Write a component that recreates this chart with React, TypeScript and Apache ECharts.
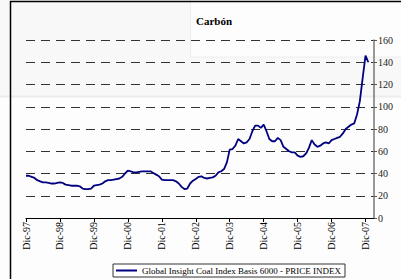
import React, { useEffect, useRef } from "react";
import * as echarts from "echarts";

const months = ["Dic", "Ene", "Feb", "Mar", "Abr", "May", "Jun", "Jul", "Ago", "Sep", "Oct", "Nov"];
const startYear = 97;
const categoryCount = 124;

const coalIndex: number[] = [
  // Dic-97 .. Nov-98
  38, 38, 37, 36, 34, 33, 32, 32, 31.5, 31, 31, 31.5,
  // Dic-98 .. Nov-99
  32, 31.5, 30, 29.5, 29, 29, 29, 28.5, 26.5, 26, 26, 26.5,
  // Dic-99 .. Nov-00
  29, 29.5, 30, 31, 33, 34, 34, 34.5, 35, 35.5, 37, 40,
  // Dic-00 .. Nov-01
  42.5, 42, 41, 41, 41.5, 42, 42, 42, 42, 40.5, 39, 37.5,
  // Dic-01 .. Nov-02
  34.5, 34, 34, 34, 34, 33, 31, 28, 26, 26.5, 31, 33.5,
  // Dic-02 .. Nov-03
  35, 37, 37.5, 36, 35.5, 36, 36.5, 38, 41, 42, 44, 50,
  // Dic-03 .. Nov-04
  61.5, 62, 65, 71, 69, 67, 68, 71, 78, 83, 83, 81,
  // Dic-04 .. Nov-05
  84, 78, 71, 69, 69, 72, 70, 64, 62, 60, 59, 59,
  // Dic-05 .. Nov-06
  56, 55, 55.5, 58, 63, 70, 66, 64, 65, 67, 68, 67,
  // Dic-06 .. Nov-07
  70, 71, 72, 73, 76, 80, 82, 84, 85, 93, 105, 126,
  // Dic-07 .. Ene-08
  146, 140,
];

const yTicks = { min: 0, max: 160, interval: 20 };
const title = "Carbón";
const seriesName = "Global Insight Coal Index Basis 6000 - PRICE INDEX";

const categories: string[] = [];
for (let i = 0; i < categoryCount; i++) {
  const m = i % 12;
  const yy = (startYear + Math.floor((i + 11) / 12)) % 100;
  categories.push(`${months[m]}-${String(yy).padStart(2, "0")}`);
}

export default function App() {
  const ref = useRef<HTMLDivElement>(null);
  useEffect(() => {
    if (!ref.current) return;
    const chart = echarts.init(ref.current, null, { renderer: "svg" });
    const font = "'Liberation Serif', 'Times New Roman', serif";
    chart.setOption({
      animation: false,
      backgroundColor: "#fdfdfd",
      title: {
        text: title,
        left: 191,
        top: 10,
        textStyle: { fontFamily: font, fontSize: 11, fontWeight: "bold", color: "#000" },
      },
      graphic: [
        { type: "rect", z: -10, silent: true, shape: { x: 0, y: 0, width: 401, height: 96 }, style: { fill: "#f8f8f8" } },
        { type: "line", z: -9, silent: true, shape: { x1: 0, y1: 96.5, x2: 401, y2: 96.5 }, style: { stroke: "#ececec", lineWidth: 2 } },
        { type: "rect", z: -8, silent: true, shape: { x: 190.5, y: -2, width: 220, height: 59 }, style: { fill: "#fdfdfd", stroke: "#eeeeee", lineWidth: 1 } },
        { type: "rect", z: 10, silent: true, shape: { x: 10.5, y: 1.5, width: 500, height: 500 }, style: { fill: "none", stroke: "#000", lineWidth: 1.5 } },
      ],
      grid: { left: 26, right: 27, top: 40, bottom: 61 },
      xAxis: {
        type: "category",
        data: categories,
        boundaryGap: false,
        axisLine: { lineStyle: { color: "#000", width: 1 } },
        axisTick: { show: true, interval: 11, length: 4, lineStyle: { color: "#000" } },
        axisLabel: {
          interval: 11,
          rotate: 90,
          fontFamily: font,
          fontSize: 10,
          color: "#000",
          margin: 4,
        },
        splitLine: { show: false },
      },
      yAxis: {
        type: "value",
        position: "right",
        min: yTicks.min,
        max: yTicks.max,
        interval: yTicks.interval,
        axisLine: { show: true, lineStyle: { color: "#777", width: 1.5 } },
        axisTick: { show: true, length: 3, lineStyle: { color: "#555" } },
        axisLabel: { fontFamily: font, fontSize: 10, color: "#222", margin: 4 },
        splitLine: { show: true, lineStyle: { color: "#333", type: [9, 6], width: 1.2 } },
      },
      legend: {
        bottom: 2,
        left: 113,
        itemWidth: 21,
        itemHeight: 2,
        itemGap: 2,
        padding: [2, 4, 2, 3],
        borderColor: "#333",
        borderWidth: 1,
        backgroundColor: "#fff",
        borderRadius: 0,
        textStyle: { fontFamily: font, fontSize: 9, color: "#000" },
        data: [{ name: seriesName, icon: "rect" }],
      },
      series: [
        {
          name: seriesName,
          type: "line",
          data: coalIndex,
          showSymbol: false,
          symbol: "none",
          smooth: false,
          lineStyle: { color: "#000080", width: 1.8 },
          itemStyle: { color: "#000080" },
        },
      ],
    });
    return () => chart.dispose();
  }, []);
  return (
    <div
      ref={ref}
      style={{ position: "fixed", left: 0, top: 0, width: 401, height: 279 }}
    />
  );
}
